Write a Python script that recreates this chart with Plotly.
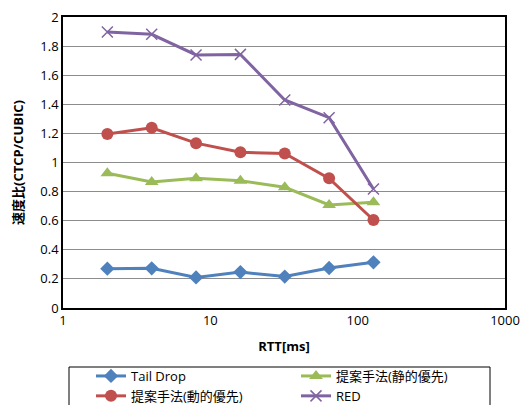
import plotly.graph_objects as go

rtt = [2, 4, 8, 16, 32, 64, 128]
tail_drop = [0.27, 0.273, 0.21, 0.247, 0.216, 0.275, 0.314]
static_prio = [0.926, 0.866, 0.891, 0.875, 0.83, 0.708, 0.726]
dynamic_prio = [1.196, 1.239, 1.133, 1.07, 1.062, 0.891, 0.605]
red = [1.897, 1.881, 1.739, 1.743, 1.43, 1.308, 0.818]

names = ["Tail Drop", "提案手法(静的優先)", "提案手法(動的優先)", "RED"]
colors = ["#4F81BD", "#9BBB59", "#C0504D", "#8064A2"]

FONT = "Open Sans, Noto Sans CJK JP, sans-serif"

fig = go.Figure()
fig.add_trace(go.Scatter(x=rtt, y=tail_drop, name=names[0], mode="lines+markers",
                         line=dict(color=colors[0], width=3),
                         marker=dict(symbol="diamond", size=11, color=colors[0])))
fig.add_trace(go.Scatter(x=rtt, y=static_prio, name=names[1], mode="lines+markers",
                         line=dict(color=colors[1], width=3),
                         marker=dict(symbol="triangle-up", size=12, color=colors[1])))
fig.add_trace(go.Scatter(x=rtt, y=dynamic_prio, name=names[2], mode="lines+markers",
                         line=dict(color=colors[2], width=3),
                         marker=dict(symbol="circle", size=12, color=colors[2])))
fig.add_trace(go.Scatter(x=rtt, y=red, name=names[3], mode="lines+markers",
                         line=dict(color=colors[3], width=3),
                         marker=dict(symbol="x-thin-open", size=11,
                                     line=dict(color=colors[3], width=1.5))))

W, H = 523, 405
fig.update_layout(
    width=W, height=H,
    margin=dict(l=63, r=18, t=17, b=97, autoexpand=False),
    paper_bgcolor="white", plot_bgcolor="white",
    font=dict(family=FONT, size=13, color="#000000"),
    showlegend=True,
    legend=dict(orientation="h", xref="container", yref="container",
                x=91 / W, y=(H - 361) / H, xanchor="left", yanchor="top",
                entrywidth=160, entrywidthmode="pixels",
                bgcolor="rgba(0,0,0,0)", borderwidth=0,
                font=dict(family=FONT, size=13), traceorder="normal",
                itemwidth=30, tracegroupgap=0),
    xaxis=dict(type="log", range=[0, 3], tickvals=[1, 10, 100, 1000],
               ticktext=["1", "10", "100", "1000"], showgrid=False,
               showline=True, linecolor="#000000", linewidth=1.5, mirror=True,
               ticks="", zeroline=False, automargin=False,
               title=dict(text="<b>RTT[ms]</b>", font=dict(size=13), standoff=14)),
    yaxis=dict(range=[0, 2], dtick=0.2, tick0=0, showgrid=True,
               gridcolor="#8c8c8c", gridwidth=1,
               showline=True, linecolor="#000000", linewidth=1.5, mirror=True,
               ticks="", zeroline=False, automargin=False,
               title=dict(text="<b>速度比(CTCP/CUBIC)</b>", font=dict(size=13), standoff=14)),
)

# legend frame (extends past the bottom edge, as in the reference)
fig.add_shape(type="rect", xref="paper", yref="paper",
              x0=(69 - 63) / 442, x1=(490 - 63) / 442,
              y0=(308 - 367) / 291, y1=(308 - 420) / 291,
              line=dict(color="#000000", width=1), fillcolor="rgba(0,0,0,0)",
              layer="above")

fig.write_html("out.html", config={"displayModeBar": False},
               post_script="document.body.style.margin='0';document.body.style.overflow='hidden';")
